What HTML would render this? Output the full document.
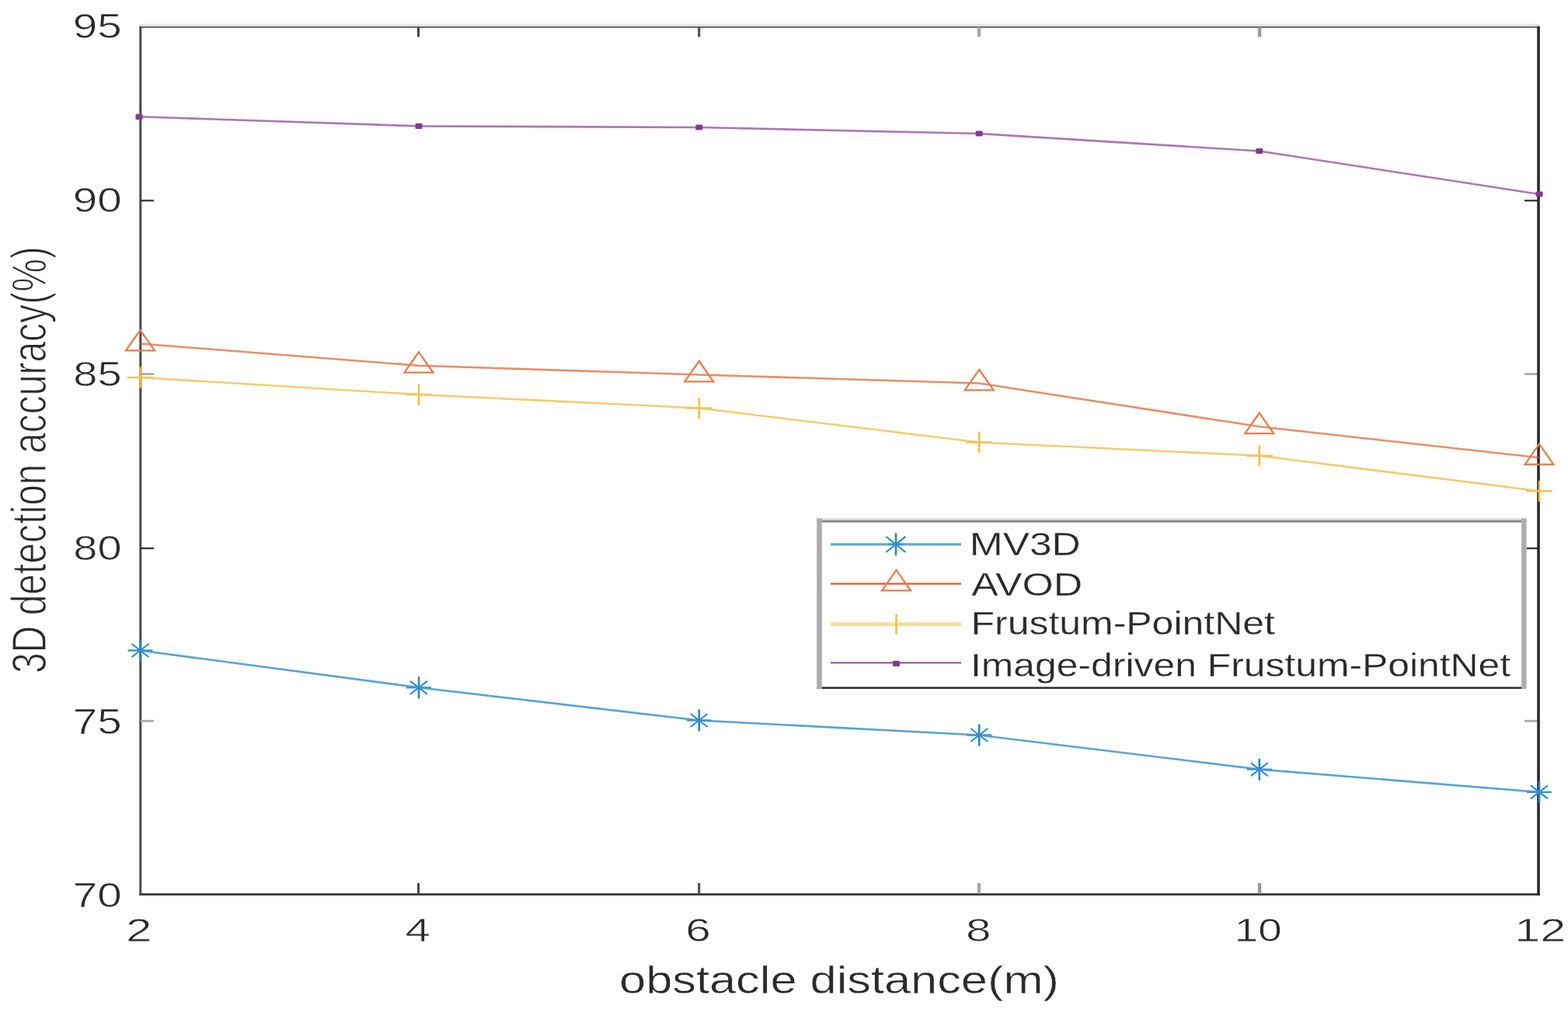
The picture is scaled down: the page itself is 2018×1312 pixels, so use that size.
<!DOCTYPE html><html><head><meta charset="utf-8"><style>html,body{margin:0;padding:0;background:#fff;overflow:hidden}svg{display:block}</style></head><body><svg width="2018" height="1312" viewBox="0 0 2018 1312" font-family="Liberation Sans, Arial, sans-serif">
<rect width="2018" height="1312" fill="#fff"/>
<rect x="179" y="30.8" width="1803" height="3.1" fill="#e6e6e6"/>
<rect x="179.3" y="33.9" width="1802.5" height="2.2" fill="#6e6e6e"/>
<rect x="179.3" y="1150.2" width="1802.5" height="2.7" fill="#333"/>
<rect x="179.3" y="33.9" width="3" height="1119" fill="#4a4a4a"/>
<rect x="537.0" y="1137" width="3.0" height="13.5" fill="#444"/>
<rect x="537.0" y="35" width="3.0" height="12.5" fill="#444"/>
<rect x="898.2" y="1137" width="3.0" height="13.5" fill="#4a4a4a"/>
<rect x="898.2" y="35" width="3.0" height="12.5" fill="#4a4a4a"/>
<rect x="1257.8" y="1137" width="4.5" height="13.5" fill="#aaa"/>
<rect x="1257.8" y="35" width="4.5" height="12.5" fill="#aaa"/>
<rect x="1618.8" y="1137" width="4.5" height="13.5" fill="#999"/>
<rect x="1618.8" y="35" width="4.5" height="12.5" fill="#999"/>
<rect x="181" y="257.2" width="17" height="2.2" fill="#2e2e2e"/>
<rect x="1962" y="257.2" width="17" height="2.2" fill="#2e2e2e"/>
<rect x="181" y="480.2" width="17" height="2.8" fill="#aaa"/>
<rect x="1962" y="480.2" width="17" height="2.8" fill="#aaa"/>
<rect x="181" y="704.9" width="17" height="2.2" fill="#2e2e2e"/>
<rect x="1962" y="704.9" width="17" height="2.2" fill="#2e2e2e"/>
<rect x="181" y="926.9" width="17" height="2.8" fill="#aaa"/>
<rect x="1962" y="926.9" width="17" height="2.8" fill="#aaa"/>
<rect x="1978.2" y="33.9" width="3.6" height="1119" fill="#2a2a2a"/>
<text transform="translate(93.77,49.15) scale(1.2652,1)" font-size="44.79" fill="#2a2a2a" stroke="#fff" stroke-width="0.7">95</text>
<text transform="translate(93.77,273.45) scale(1.2652,1)" font-size="44.79" fill="#2a2a2a" stroke="#fff" stroke-width="0.7">90</text>
<text transform="translate(94.36,497.35) scale(1.2529,1)" font-size="44.79" fill="#2a2a2a" stroke="#fff" stroke-width="0.7">85</text>
<text transform="translate(94.36,721.45) scale(1.2529,1)" font-size="44.79" fill="#2a2a2a" stroke="#fff" stroke-width="0.7">80</text>
<text transform="translate(93.77,945.45) scale(1.2474,1)" font-size="45.43" fill="#2a2a2a" stroke="#fff" stroke-width="0.7">75</text>
<text transform="translate(93.77,1168.35) scale(1.2652,1)" font-size="44.79" fill="#2a2a2a" stroke="#fff" stroke-width="0.7">70</text>
<text transform="translate(161.99,1212.10) scale(1.4004,1)" font-size="43.00" fill="#2a2a2a" stroke="#fff" stroke-width="0.7">2</text>
<text transform="translate(521.42,1211.67) scale(1.3600,1)" font-size="43.00" fill="#2a2a2a" stroke="#fff" stroke-width="0.7">4</text>
<text transform="translate(882.33,1212.10) scale(1.3600,1)" font-size="43.00" fill="#2a2a2a" stroke="#fff" stroke-width="0.7">6</text>
<text transform="translate(1242.92,1212.10) scale(1.3600,1)" font-size="43.00" fill="#2a2a2a" stroke="#fff" stroke-width="0.7">8</text>
<text transform="translate(1588.71,1212.10) scale(1.2755,1)" font-size="43.00" fill="#2a2a2a" stroke="#fff" stroke-width="0.7">10</text>
<text transform="translate(1949.27,1212.10) scale(1.3764,1)" font-size="43.00" fill="#2a2a2a" stroke="#fff" stroke-width="0.7">12</text>
<text transform="translate(797.05,1278.59) scale(1.2141,1)" font-size="50.53" fill="#2a2a2a" stroke="#fff" stroke-width="0.5">obstacle distance(m)</text>
<text transform="translate(59.14,867.12) scale(1.3045,1) rotate(-90)" font-size="48.04" fill="#2a2a2a" stroke="#fff" stroke-width="1.0">3D detection accuracy(%)</text>
<polyline points="180.5,837.5 539.0,885.3 899.7,927.5 1260.2,946.5 1620.8,990.6 1981.0,1019.9" fill="none" stroke="#0072BD" stroke-width="2.6" stroke-opacity="0.65" stroke-linejoin="round"/>
<polyline points="180.5,442.5 539.0,470.8 899.7,482.5 1260.2,493.5 1620.8,549.3 1981.0,589.2" fill="none" stroke="#D95319" stroke-width="2.6" stroke-opacity="0.65" stroke-linejoin="round"/>
<polyline points="180.5,486.0 539.0,508.0 899.7,525.5 1260.2,569.5 1620.8,586.7 1981.0,632.3" fill="none" stroke="#EDB120" stroke-width="2.6" stroke-opacity="0.65" stroke-linejoin="round"/>
<polyline points="180.5,150.3 539.0,162.4 899.7,164.0 1260.2,172.0 1620.8,194.5 1981.0,250.0" fill="none" stroke="#7E2F8E" stroke-width="2.6" stroke-opacity="0.65" stroke-linejoin="round"/>
<path d="M180.5,823.5V851.5" stroke="#2687c7" stroke-width="2.6" fill="none"/>
<path d="M164.5,837.5H196.5" stroke="#4095ce" stroke-width="2.4" fill="none"/>
<path d="M169.5,829.0L191.5,846.0M169.5,846.0L191.5,829.0" stroke="#338eca" stroke-width="2.2" fill="none"/>
<path d="M539.0,871.3V899.3" stroke="#2687c7" stroke-width="2.6" fill="none"/>
<path d="M523.0,885.3H555.0" stroke="#4095ce" stroke-width="2.4" fill="none"/>
<path d="M528.0,876.8L550.0,893.8M528.0,893.8L550.0,876.8" stroke="#338eca" stroke-width="2.2" fill="none"/>
<path d="M899.7,913.5V941.5" stroke="#2687c7" stroke-width="2.6" fill="none"/>
<path d="M883.7,927.5H915.7" stroke="#4095ce" stroke-width="2.4" fill="none"/>
<path d="M888.7,919.0L910.7,936.0M888.7,936.0L910.7,919.0" stroke="#338eca" stroke-width="2.2" fill="none"/>
<path d="M1260.2,932.5V960.5" stroke="#2687c7" stroke-width="2.6" fill="none"/>
<path d="M1244.2,946.5H1276.2" stroke="#4095ce" stroke-width="2.4" fill="none"/>
<path d="M1249.2,938.0L1271.2,955.0M1249.2,955.0L1271.2,938.0" stroke="#338eca" stroke-width="2.2" fill="none"/>
<path d="M1620.8,976.6V1004.6" stroke="#2687c7" stroke-width="2.6" fill="none"/>
<path d="M1604.8,990.6H1636.8" stroke="#4095ce" stroke-width="2.4" fill="none"/>
<path d="M1609.8,982.1L1631.8,999.1M1609.8,999.1L1631.8,982.1" stroke="#338eca" stroke-width="2.2" fill="none"/>
<path d="M1981.0,1005.9V1033.9" stroke="#2687c7" stroke-width="2.6" fill="none"/>
<path d="M1965.0,1019.9H1997.0" stroke="#4095ce" stroke-width="2.4" fill="none"/>
<path d="M1970.0,1011.4L1992.0,1028.4M1970.0,1028.4L1992.0,1011.4" stroke="#338eca" stroke-width="2.2" fill="none"/>
<path d="M180.5,425.0L199.0,451.3L162.0,451.3Z" stroke="#e27e52" stroke-width="2.3" fill="none" stroke-linejoin="miter"/>
<path d="M539.0,453.3L557.5,479.6L520.5,479.6Z" stroke="#e27e52" stroke-width="2.3" fill="none" stroke-linejoin="miter"/>
<path d="M899.7,465.0L918.2,491.3L881.2,491.3Z" stroke="#e27e52" stroke-width="2.3" fill="none" stroke-linejoin="miter"/>
<path d="M1260.2,476.0L1278.7,502.3L1241.7,502.3Z" stroke="#e27e52" stroke-width="2.3" fill="none" stroke-linejoin="miter"/>
<path d="M1620.8,531.8L1639.3,558.1L1602.3,558.1Z" stroke="#e27e52" stroke-width="2.3" fill="none" stroke-linejoin="miter"/>
<path d="M1981.0,571.7L1999.5,598.0L1962.5,598.0Z" stroke="#e27e52" stroke-width="2.3" fill="none" stroke-linejoin="miter"/>
<path d="M180.5,472.5V499.5" stroke="#f0bd41" stroke-width="2.5" fill="none"/>
<path d="M163.5,486.0H197.5" stroke="#f2c458" stroke-width="2.4" fill="none"/>
<path d="M539.0,494.5V521.5" stroke="#f0bd41" stroke-width="2.5" fill="none"/>
<path d="M522.0,508.0H556.0" stroke="#f2c458" stroke-width="2.4" fill="none"/>
<path d="M899.7,512.0V539.0" stroke="#f0bd41" stroke-width="2.5" fill="none"/>
<path d="M882.7,525.5H916.7" stroke="#f2c458" stroke-width="2.4" fill="none"/>
<path d="M1260.2,556.0V583.0" stroke="#f0bd41" stroke-width="2.5" fill="none"/>
<path d="M1243.2,569.5H1277.2" stroke="#f2c458" stroke-width="2.4" fill="none"/>
<path d="M1620.8,573.2V600.2" stroke="#f0bd41" stroke-width="2.5" fill="none"/>
<path d="M1603.8,586.7H1637.8" stroke="#f2c458" stroke-width="2.4" fill="none"/>
<path d="M1981.0,618.8V645.8" stroke="#f0bd41" stroke-width="2.5" fill="none"/>
<path d="M1964.0,632.3H1998.0" stroke="#f2c458" stroke-width="2.4" fill="none"/>
<rect x="174.5" y="146.7" width="9" height="7.2" rx="1.5" fill="#843994"/>
<rect x="534.5" y="158.8" width="9" height="7.2" rx="1.5" fill="#843994"/>
<rect x="895.2" y="160.4" width="9" height="7.2" rx="1.5" fill="#843994"/>
<rect x="1255.7" y="168.4" width="9" height="7.2" rx="1.5" fill="#843994"/>
<rect x="1616.3" y="190.9" width="9" height="7.2" rx="1.5" fill="#843994"/>
<rect x="1976.5" y="246.4" width="9" height="7.2" rx="1.5" fill="#843994"/>
<rect x="1051.2" y="667.4" width="913.3" height="219.5" fill="#fff"/>
<rect x="1051.2" y="667.4" width="913.3" height="2.7" fill="#d5d5d5"/>
<rect x="1051.2" y="670.1" width="913.3" height="2.5" fill="#808080"/>
<rect x="1051.2" y="884.4" width="910" height="2.5" fill="#2e2e2e"/>
<rect x="1051.2" y="667.4" width="6.6" height="219.5" fill="#adadad"/>
<rect x="1958.1" y="667.4" width="6.4" height="219.5" fill="#adadad"/>
<line x1="1069" y1="700.8" x2="1237" y2="700.8" stroke="#0072BD" stroke-width="3.2" stroke-opacity="0.62"/>
<line x1="1069" y1="751.6" x2="1237" y2="751.6" stroke="#D95319" stroke-width="2.2" stroke-opacity="0.95"/>
<line x1="1069" y1="803.6" x2="1237" y2="803.6" stroke="#EDB120" stroke-width="4.6" stroke-opacity="0.45"/>
<line x1="1069" y1="853.4" x2="1237" y2="853.4" stroke="#7E2F8E" stroke-width="2.4" stroke-opacity="0.8"/>
<path d="M1153.0,686.3V715.3" stroke="#2687c7" stroke-width="2.6" fill="none"/>
<path d="M1143.0,700.8H1163.0" stroke="#4095ce" stroke-width="2.4" fill="none"/>
<path d="M1140.5,690.8L1165.5,710.8M1140.5,710.8L1165.5,690.8" stroke="#338eca" stroke-width="2.2" fill="none"/>
<path d="M1153.6,734.1L1172.1,760.4L1135.1,760.4Z" stroke="#e27e52" stroke-width="2.3" fill="none" stroke-linejoin="miter"/>
<path d="M1153.5,790.6V816.6" stroke="#f0bd41" stroke-width="2.5" fill="none"/>
<rect x="1149.0" y="850.8" width="9" height="7.2" rx="1.5" fill="#843994"/>
<text transform="translate(1247.78,715.2) scale(1.2255,1)" font-size="42.0" fill="#2a2a2a" stroke="#fff" stroke-width="0.3">MV3D</text>
<text transform="translate(1250.30,767.3) scale(1.2335,1)" font-size="42.0" fill="#2a2a2a" stroke="#fff" stroke-width="0.3">AVOD</text>
<text transform="translate(1249.50,817.3) scale(1.1896,1)" font-size="42.0" fill="#2a2a2a" stroke="#fff" stroke-width="0.3">Frustum-PointNet</text>
<text transform="translate(1249.01,870.6) scale(1.1869,1)" font-size="42.0" fill="#2a2a2a" stroke="#fff" stroke-width="0.3">Image-driven Frustum-PointNet</text>
</svg></body></html>
